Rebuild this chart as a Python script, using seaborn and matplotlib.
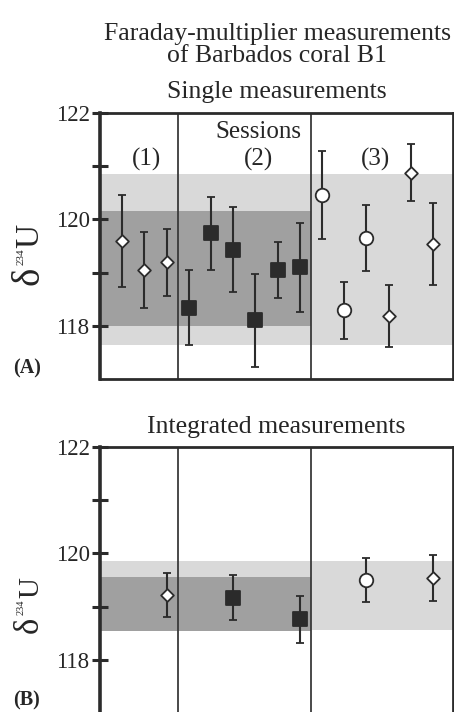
import matplotlib
matplotlib.use("Agg")
import matplotlib.pyplot as plt
import seaborn as sns
import pandas as pd

#%% DATA
# single measurements (panel A)
single_x = [1, 2, 3, 4, 5, 6, 7, 8, 9, 10, 11, 12, 13, 14, 15]
single_val = [119.59, 119.05, 119.19, 118.34, 119.74, 119.43, 118.10, 119.05, 119.10,
              120.46, 118.29, 119.65, 118.18, 120.88, 119.54]
single_err = [0.87, 0.72, 0.63, 0.70, 0.69, 0.80, 0.87, 0.53, 0.84,
              0.83, 0.53, 0.62, 0.58, 0.53, 0.77]
single_kind = ["diamond"] * 3 + ["square"] * 6 + ["circle", "circle", "circle",
                                                  "diamond", "diamond", "diamond"]

# integrated measurements (panel B)
integ_x = [3, 6, 9, 12, 15]
integ_val = [119.22, 119.17, 118.76, 119.50, 119.54]
integ_err = [0.41, 0.43, 0.44, 0.42, 0.43]
integ_kind = ["diamond", "square", "square", "circle", "diamond"]

# shaded ranges: (low, high)
band_a_light = (117.64, 120.86)
band_a_dark = (118.00, 120.16)
band_b_light = (118.56, 119.86)
band_b_dark = (118.55, 119.56)

session_bounds = [3.5, 9.5]
session_labels = ["(1)", "(2)", "(3)"]
session_label_x = [2.1, 7.15, 12.4]

#%% STYLE
sns.set_theme(style="white")
plt.rcParams["font.family"] = ["Liberation Serif", "DejaVu Serif"]

INK = "#2b2b2b"
LIGHT = "#d9d9d9"
DARK = "#a0a0a0"
markers = {"diamond": "D", "square": "s", "circle": "o"}
sizes = {"diamond": 42, "square": 110, "circle": 95}
faces = {"diamond": "white", "square": INK, "circle": "white"}

W, H = 454, 712


def px(x, y):
    # pixel position (from top-left) -> figure fraction
    return x / W, 1 - y / H


def delta_label(fig, y_start, y_sup, y_u, sizes_):
    # δ²³⁴U drawn rotated in three pieces (small superscript)
    d_size, s_size, u_size = sizes_
    kw = dict(rotation=90, rotation_mode="anchor", ha="left", va="baseline")
    fig.text(*px(38, y_start), "δ", fontsize=d_size, **kw)
    fig.text(*px(23.5, y_sup), "234", fontsize=s_size, **kw)
    fig.text(*px(38, y_u), "U", fontsize=u_size, **kw)


def draw_panel(ax, x, val, err, kind, light, dark):
    ax.set_xlim(0, 15.9)
    ax.set_ylim(117, 122)
    ax.axhspan(light[0], light[1], color=LIGHT, lw=0, zorder=0)
    ax.axhspan(dark[0], dark[1], xmin=0, xmax=session_bounds[1] / 15.9,
               color=DARK, lw=0, zorder=0.5)
    for b in session_bounds:
        ax.axvline(b, color="#3a3a3a", lw=1.3, zorder=1)
    ax.errorbar(x, val, yerr=err, fmt="none", ecolor=INK, elinewidth=1.5,
                capsize=3, capthick=1.3, zorder=2)
    df = pd.DataFrame({"x": x, "val": val, "kind": kind})
    for k, sub in df.groupby("kind"):
        sns.scatterplot(data=sub, x="x", y="val", marker=markers[k], s=sizes[k],
                        color=faces[k], edgecolor=INK, linewidth=1.3,
                        zorder=3, ax=ax, legend=False)
    ax.set_xlabel("")
    ax.set_ylabel("")
    ax.set_xticks([])
    ax.set_yticks([118, 120, 122])
    ax.set_yticks([119, 121], minor=True)
    ax.tick_params(axis="y", which="both", direction="inout", length=11,
                   width=2.2, color=INK, labelsize=16.5, pad=2, left=True)
    for side, w in [("left", 2.6), ("top", 2.0), ("right", 2.0), ("bottom", 2.0)]:
        ax.spines[side].set_linewidth(w)
        ax.spines[side].set_color(INK)
        ax.spines[side].set_visible(True)


#%% FIGURE
fig = plt.figure(figsize=(4.54, 7.12), dpi=100)
ax_a = fig.add_axes([0.2203, 0.4677, 0.7775, 0.3736])
ax_b = fig.add_axes([0.2203, -0.0018, 0.7775, 0.3745])

draw_panel(ax_a, single_x, single_val, single_err, single_kind, band_a_light, band_a_dark)
draw_panel(ax_b, integ_x, integ_val, integ_err, integ_kind, band_b_light, band_b_dark)

delta_label(fig, 285, 265, 248, (28, 8, 24))
delta_label(fig, 633, 615, 598, (25, 7.5, 21))

ax_a.text(7.15, 121.64, "Sessions", ha="center", va="center", fontsize=18)
for lx, lab in zip(session_label_x, session_labels):
    ax_a.text(lx, 121.12, lab, ha="center", va="center", fontsize=18)

ax_a.set_title("Single measurements", fontsize=18.5, pad=11)
ax_b.set_title("Integrated measurements", fontsize=18.5, pad=10)

fig.text(*px(277, 34), "Faraday-multiplier measurements", ha="center", va="center", fontsize=18.5)
fig.text(*px(277, 55.5), "of Barbados coral B1", ha="center", va="center", fontsize=18.5)
fig.text(*px(13, 368), "(A)", fontweight="bold", fontsize=14.5, va="center")
fig.text(*px(13, 700), "(B)", fontweight="bold", fontsize=14.5, va="center")

fig.savefig("out.png", dpi=100)
